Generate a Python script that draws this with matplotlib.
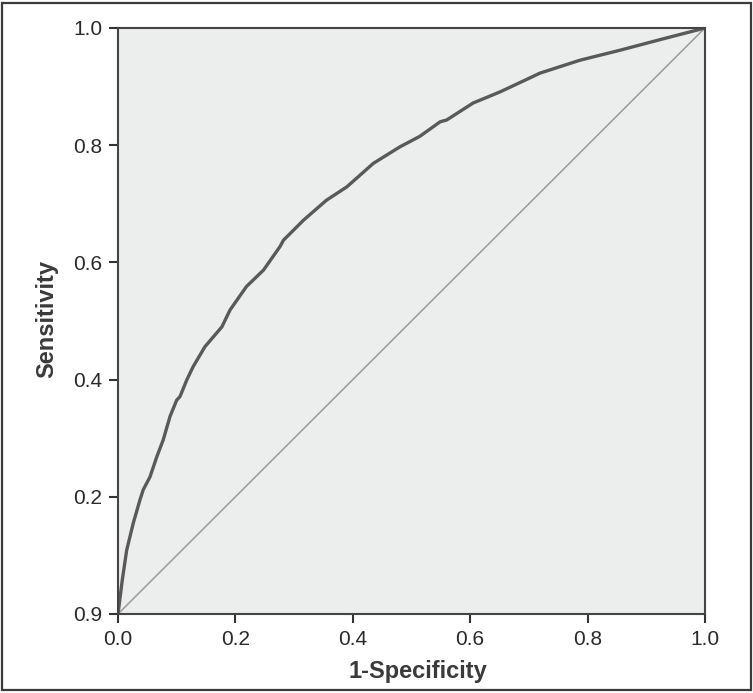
import matplotlib
matplotlib.use("Agg")
import matplotlib.pyplot as plt
from matplotlib.patches import Rectangle

# ROC curve
fpr = [0.0, 0.0073, 0.0148, 0.026, 0.0375, 0.043, 0.0545, 0.066, 0.077, 0.0886,
       0.100, 0.1056, 0.117, 0.128, 0.148, 0.177, 0.191, 0.219, 0.248, 0.276,
       0.282, 0.316, 0.355, 0.390, 0.435, 0.480, 0.514, 0.549, 0.560, 0.605,
       0.651, 0.719, 0.787, 0.855, 0.923, 1.0]
tpr = [0.0, 0.058, 0.109, 0.155, 0.195, 0.212, 0.234, 0.268, 0.297, 0.337,
       0.365, 0.371, 0.399, 0.422, 0.456, 0.490, 0.519, 0.559, 0.587, 0.627,
       0.638, 0.672, 0.706, 0.729, 0.769, 0.797, 0.815, 0.840, 0.843, 0.872,
       0.891, 0.923, 0.945, 0.962, 0.980, 1.0]
ref_line = [0.0, 1.0]

x_ticks = [0.0, 0.2, 0.4, 0.6, 0.8, 1.0]
x_tick_labels = ['0.0', '0.2', '0.4', '0.6', '0.8', '1.0']
y_ticks = [0.0, 0.2, 0.4, 0.6, 0.8, 1.0]
y_tick_labels = ['0.9', '0.2', '0.4', '0.6', '0.8', '1.0']

plt.rcParams['font.family'] = ['Liberation Sans', 'DejaVu Sans']

fig = plt.figure(figsize=(7.53, 6.93), dpi=100)
fig.patch.set_facecolor('white')
fig.patches.append(Rectangle((0.003, 0.004), 0.994, 0.992, transform=fig.transFigure,
                             fill=False, edgecolor='#3a3a3a', linewidth=1.6))

ax = fig.add_axes([0.1567, 0.114, 0.7795, 0.8456])
ax.set_facecolor('#eceeed')

ax.plot(ref_line, ref_line, color='#9a9a9a', linewidth=1.1)
ax.plot(fpr, tpr, color='#595959', linewidth=2.4)

ax.set_xlim(0, 1)
ax.set_ylim(0, 1)
ax.set_xticks(x_ticks)
ax.set_xticklabels(x_tick_labels)
ax.set_yticks(y_ticks)
ax.set_yticklabels(y_tick_labels)
ax.tick_params(direction='out', length=6.5, width=1.5, colors='#333333',
               labelsize=15, labelcolor='#2a2a2a', pad=5)
for s in ax.spines.values():
    s.set_color('#444444')
    s.set_linewidth(1.5)

ax.set_xlabel('1-Specificity', fontsize=17, fontweight='bold', color='#3a3a3a')
ax.set_ylabel('Sensitivity', fontsize=17, fontweight='bold', color='#3a3a3a')
ax.xaxis.set_label_coords(0.511, -0.078)
ax.yaxis.set_label_coords(-0.101, 0.504)

fig.savefig('out.png', dpi=100)
